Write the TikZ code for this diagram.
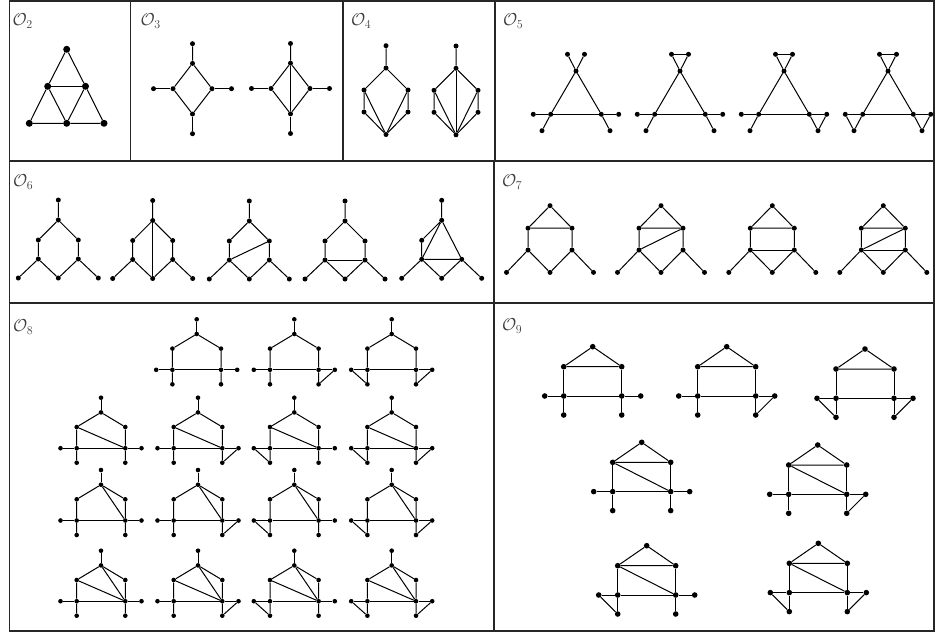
\documentclass[tikz,border=0pt]{standalone}
\usetikzlibrary{calc}
\tikzset{
  dot/.style={circle,fill=black,draw=none,inner sep=0pt,minimum size=5pt},
  edge/.style={line width=1pt,black},
  frame/.style={line width=1.6pt,black!85},
  lab/.style={anchor=west,inner sep=0pt,text=black!75,font=\fontsize{18}{21}\selectfont},
  dia/.pic={
    \node[dot] (-t) at (0,-45) {};
    \node[dot] (-u) at (0,-25.3) {};
    \node[dot] (-l) at (-19.5,0) {};
    \node[dot] (-fl) at (-39,0) {};
    \node[dot] (-r) at (19.5,0) {};
    \node[dot] (-fr) at (39,0) {};
    \node[dot] (-d) at (0,25.3) {};
    \node[dot] (-b) at (0,45) {};
    \draw[edge] (-t) -- (-u) -- (-l) -- (-d) -- (-r) -- (-u);
    \draw[edge] (-d) -- (-b);
    \draw[edge] (-fl) -- (-l);
    \draw[edge] (-r) -- (-fr);
  },
  kite/.pic={
    \node[dot] (-t) at (0,-22.3) {};
    \node[dot] (-h) at (0,0) {};
    \node[dot] (-ul) at (-22,22) {};
    \node[dot] (-ur) at (22,22) {};
    \node[dot] (-ll) at (-22,44) {};
    \node[dot] (-lr) at (22,44) {};
    \node[dot] (-b) at (0,66.5) {};
    \draw[edge] (-t) -- (-h) -- (-ul) -- (-ll) -- (-b) -- (-lr) -- (-ur) -- (-h);
    \draw[edge] (-ul) -- (-b) -- (-ur);
  },
  tri/.pic={
    \node[dot] (-tl) at (-8.5,-16.7) {};
    \node[dot] (-tr) at (8.5,-16.7) {};
    \node[dot] (-a) at (0,0) {};
    \node[dot] (-bl) at (-25.3,43.3) {};
    \node[dot] (-br) at (25.3,43.3) {};
    \node[dot] (-fl) at (-42.7,43.3) {};
    \node[dot] (-fr) at (42.7,43.3) {};
    \node[dot] (-cl) at (-34,59.7) {};
    \node[dot] (-cr) at (34,59.7) {};
    \draw[edge] (-tl) -- (-a) -- (-br) -- (-cr);
    \draw[edge] (-tr) -- (-a) -- (-bl) -- (-cl);
    \draw[edge] (-fl) -- (-bl) -- (-br) -- (-fr);
  },
  hex/.pic={
    \node[dot] (-t) at (0,-20) {};
    \node[dot] (-h) at (0,0) {};
    \node[dot] (-ul) at (-20,20) {};
    \node[dot] (-ur) at (20,20) {};
    \node[dot] (-ll) at (-20,39) {};
    \node[dot] (-lr) at (20,39) {};
    \node[dot] (-m) at (0,58) {};
    \node[dot] (-fl) at (-40,58) {};
    \node[dot] (-fr) at (40,58) {};
    \draw[edge] (-t) -- (-h) -- (-ul) -- (-ll) -- (-m) -- (-lr) -- (-ur) -- (-h);
    \draw[edge] (-fl) -- (-ll);
    \draw[edge] (-lr) -- (-fr);
  },
  hexv/.pic={
    \node[dot] (-t) at (0,-20) {};
    \node[dot] (-h) at (0,0) {};
    \node[dot] (-ul) at (-20,20) {};
    \node[dot] (-ll) at (-20,39) {};
    \node[dot] (-lr) at (20,39) {};
    \node[dot] (-m) at (0,58) {};
    \node[dot] (-fl) at (-40,58) {};
    \node[dot] (-fr) at (40,58) {};
    \draw[edge] (-t) -- (-h) -- (-ul) -- (-ll) -- (-m) -- (-lr) -- (-h) -- (-ll) -- (-lr);
    \draw[edge] (-fl) -- (-ll);
    \draw[edge] (-lr) -- (-fr);
  },
  hsix/.pic={
    \node[dot] (-t) at (0,0) {};
    \node[dot] (-ul) at (-22,22.5) {};
    \node[dot] (-ur) at (22,22.5) {};
    \node[dot] (-ll) at (-22,44.3) {};
    \node[dot] (-lr) at (22,44.3) {};
    \node[dot] (-m) at (0,66.7) {};
    \node[dot] (-fl) at (-43.5,66.7) {};
    \node[dot] (-fr) at (43.5,66.7) {};
    \draw[edge] (-ur) -- (-t) -- (-ul) -- (-ur) -- (-lr) -- (-m) -- (-ll) -- (-ul);
    \draw[edge] (-fl) -- (-ll);
    \draw[edge] (-lr) -- (-fr);
  },
  height/.pic={
    \node[dot] (-t) at (0,0) {};
    \node[dot] (-h) at (0,14.7) {};
    \node[dot] (-ul) at (-24.3,29.3) {};
    \node[dot] (-ur) at (24.3,29.3) {};
    \node[dot] (-ml) at (-24.3,50.5) {};
    \node[dot] (-mr) at (24.3,50.5) {};
    \node[dot] (-fl) at (-40.5,50.5) {};
    \node[dot] (-fr) at (40.5,50.5) {};
    \node[dot] (-cl) at (-24.3,65) {};
    \node[dot] (-cr) at (24.3,65) {};
    \draw[edge] (-t) -- (-h);
    \draw[edge] (-cl) -- (-ml) -- (-ul) -- (-h) -- (-ur) -- (-mr) -- (-cr);
    \draw[edge] (-fl) -- (-ml) -- (-mr) -- (-fr);
  },
  hnine/.pic={
    \node[dot] (-t) at (0,0) {};
    \node[dot] (-ul) at (-29,20) {};
    \node[dot] (-ur) at (29,20) {};
    \node[dot] (-ml) at (-29,49.3) {};
    \node[dot] (-mr) at (29,49.3) {};
    \node[dot] (-fl) at (-48,49.3) {};
    \node[dot] (-fr) at (48,49.3) {};
    \node[dot] (-cl) at (-29,68.3) {};
    \node[dot] (-cr) at (29,68.3) {};
    \draw[edge] (-ur) -- (-t) -- (-ul) -- (-ur);
    \draw[edge] (-cl) -- (-ml) -- (-ul);
    \draw[edge] (-cr) -- (-mr) -- (-ur);
    \draw[edge] (-fl) -- (-ml) -- (-mr) -- (-fr);
  },
}
\begin{document}
\begin{tikzpicture}[x=1pt,y=-1pt]
\useasboundingbox (0,0) rectangle (936,633);
% frames
\draw[frame] (9.5,1) rectangle (934,631);
\draw[frame] (9.5,161) -- (934,161);
\draw[frame] (9.5,303) -- (934,303);
\draw[frame] (130.5,1) -- (130.5,161);
\draw[frame] (343,1) -- (343,161);
\draw[frame] (495,1) -- (495,161);
\draw[frame] (494,161) -- (494,631);
% labels
\node[lab] (l2) at (12.5,21) {$\mathcal{O}_2$};
\node[lab] (l3) at (140.5,21) {$\mathcal{O}_3$};
\node[lab] (l4) at (351,21) {$\mathcal{O}_4$};
\node[lab] (l5) at (503,21) {$\mathcal{O}_5$};
\node[lab] (l6) at (13,182) {$\mathcal{O}_6$};
\node[lab] (l7) at (502,182) {$\mathcal{O}_7$};
\node[lab] (l8) at (13,327) {$\mathcal{O}_8$};
\node[lab] (l9) at (502,326) {$\mathcal{O}_9$};
% O2
\begin{scope}[dot/.append style={minimum size=7pt}]
\node[dot] (a2) at (66.7,49.3) {};
\node[dot] (b2) at (47.7,86.3) {};
\node[dot] (c2) at (85.5,86.3) {};
\node[dot] (d2) at (29.3,123.3) {};
\node[dot] (e2) at (66.7,123.3) {};
\node[dot] (f2) at (104,123.3) {};
\draw[edge] (a2) -- (b2) -- (d2) -- (e2) -- (f2) -- (c2) -- (a2);
\draw[edge] (b2) -- (c2);
\draw[edge] (b2) -- (e2) -- (c2);
\end{scope}
% O3
\pic (g3a) at (192.5,88.7) {dia};
\pic (g3b) at (290.5,88.5) {dia};
\draw[edge] (g3b-u) -- (g3b-d);
% O4
\pic (g4a) at (386,68) {kite};
\pic (g4b) at (456,68.3) {kite};
\draw[edge] (g4b-h) -- (g4b-b);
% O5
\pic (g5a) at (576,71) {tri};
\pic (g5b) at (680,71) {tri};
\pic (g5c) at (784,71) {tri};
\pic (g5d) at (888,71) {tri};
\draw[edge] (g5b-tl) -- (g5b-tr);
\draw[edge] (g5c-tl) -- (g5c-tr);
\draw[edge] (g5c-fr) -- (g5c-cr);
\draw[edge] (g5d-tl) -- (g5d-tr);
\draw[edge] (g5d-fr) -- (g5d-cr);
\draw[edge] (g5d-fl) -- (g5d-cl);
% O6
\pic (g6a) at (58.3,220) {hex};
\pic (g6b) at (152.7,220.5) {hex};
\pic (g6c) at (249.3,221) {hex};
\pic (g6d) at (345,221) {hex};
\pic (g6e) at (441.7,220.3) {hexv};
\draw[edge] (g6b-h) -- (g6b-m);
\draw[edge] (g6c-ll) -- (g6c-ur);
\draw[edge] (g6d-ll) -- (g6d-lr);
% O7
\pic (g7a) at (550,205.7) {hsix};
\pic (g7b) at (661,205.7) {hsix};
\pic (g7c) at (772.3,205.7) {hsix};
\pic (g7d) at (883.3,205.7) {hsix};
\draw[edge] (g7b-ll) -- (g7b-ur);
\draw[edge] (g7c-ll) -- (g7c-lr);
\draw[edge] (g7d-ll) -- (g7d-ur);
\draw[edge] (g7d-ll) -- (g7d-lr);
% O8
\begin{scope}[dot/.append style={minimum size=4.6pt}]
\pic (g8a) at (196.7,319.3) {height};
\pic (g8b) at (294.3,319.3) {height};
\pic (g8c) at (391.7,319.3) {height};
\draw[edge] (g8b-fr) -- (g8b-cr);
\draw[edge] (g8c-fr) -- (g8c-cr);
\draw[edge] (g8c-fl) -- (g8c-cl);
% row 2
\pic (g8d) at (101,397.7) {height};
\pic (g8e) at (198,397.7) {height};
\pic (g8f) at (294.3,397.7) {height};
\pic (g8g) at (391.7,397.7) {height};
\draw[edge] (g8d-ul) -- (g8d-mr);
\draw[edge] (g8e-ul) -- (g8e-mr);
\draw[edge] (g8f-ul) -- (g8f-mr);
\draw[edge] (g8g-ul) -- (g8g-mr);
\draw[edge] (g8e-fr) -- (g8e-cr);
\draw[edge] (g8f-fl) -- (g8f-cl);
\draw[edge] (g8g-fr) -- (g8g-cr);
\draw[edge] (g8g-fl) -- (g8g-cl);
% row 3
\pic (g8h) at (101,470) {height};
\pic (g8i) at (198,470) {height};
\pic (g8j) at (294.3,470) {height};
\pic (g8k) at (391.7,470) {height};
\draw[edge] (g8h-h) -- (g8h-mr);
\draw[edge] (g8i-h) -- (g8i-mr);
\draw[edge] (g8j-h) -- (g8j-mr);
\draw[edge] (g8k-h) -- (g8k-mr);
\draw[edge] (g8i-fr) -- (g8i-cr);
\draw[edge] (g8j-fl) -- (g8j-cl);
\draw[edge] (g8k-fr) -- (g8k-cr);
\draw[edge] (g8k-fl) -- (g8k-cl);
% row 4
\pic (g8l) at (101,550.7) {height};
\pic (g8m) at (198,550.7) {height};
\pic (g8n) at (294.3,550.7) {height};
\pic (g8o) at (391.7,550.7) {height};
\draw[edge] (g8l-h) -- (g8l-mr) -- (g8l-ul);
\draw[edge] (g8m-h) -- (g8m-mr) -- (g8m-ul);
\draw[edge] (g8n-h) -- (g8n-mr) -- (g8n-ul);
\draw[edge] (g8o-h) -- (g8o-mr) -- (g8o-ul);
\draw[edge] (g8m-fr) -- (g8m-cr);
\draw[edge] (g8n-fl) -- (g8n-cl);
\draw[edge] (g8o-fr) -- (g8o-cr);
\draw[edge] (g8o-fl) -- (g8o-cl);
\end{scope}
% O9
\begin{scope}[dot/.append style={minimum size=5.6pt}]
\pic (g9a) at (592.7,346.7) {hnine};
\pic (g9b) at (726.7,346.7) {hnine};
\pic (g9c) at (865,349) {hnine};
\pic (g9d) at (641.7,442.3) {hnine};
\pic (g9e) at (817.7,445) {hnine};
\pic (g9f) at (646.7,545.7) {hnine};
\pic (g9g) at (818.3,543.3) {hnine};
\draw[edge] (g9b-fr) -- (g9b-cr);
\draw[edge] (g9c-fr) -- (g9c-cr);
\draw[edge] (g9c-fl) -- (g9c-cl);
\draw[edge] (g9d-ul) -- (g9d-mr);
\draw[edge] (g9e-ul) -- (g9e-mr);
\draw[edge] (g9e-fr) -- (g9e-cr);
\draw[edge] (g9f-ul) -- (g9f-mr);
\draw[edge] (g9f-fl) -- (g9f-cl);
\draw[edge] (g9g-ul) -- (g9g-mr);
\draw[edge] (g9g-fr) -- (g9g-cr);
\draw[edge] (g9g-fl) -- (g9g-cl);
\end{scope}
\end{tikzpicture}
\end{document}
